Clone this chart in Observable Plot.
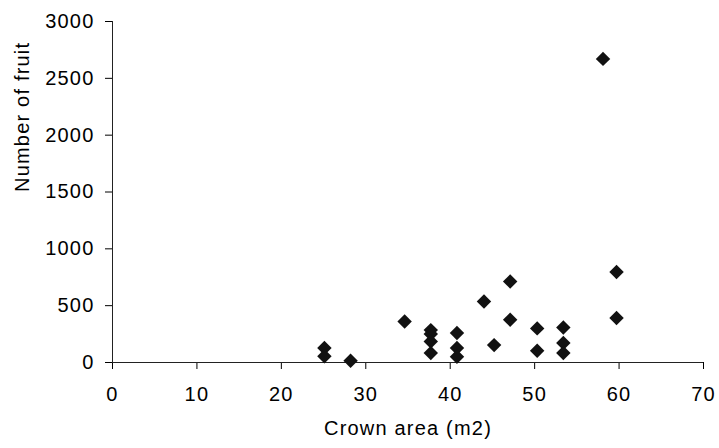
<!DOCTYPE html>
<html><head><meta charset="utf-8">
<script src="https://cdn.jsdelivr.net/npm/d3@7"></script>
<script src="https://cdn.jsdelivr.net/npm/@observablehq/plot@0.6"></script>
<style>
html,body{margin:0;padding:0;background:#fff}
#chart svg text{font-family:'Liberation Sans',Arial,sans-serif;font-size:20px;letter-spacing:1.2px;fill:#000}
</style>
</head><body><div id="chart"></div>
<script>
const crownArea = [25.1, 25.1, 28.2, 34.6, 37.7, 37.7, 37.7, 37.7, 40.8, 40.8, 40.8, 44.0, 45.2, 47.1, 47.1, 50.3, 50.3, 53.4, 53.4, 53.4, 58.1, 59.7, 59.7];
const fruitCount = [127, 55, 15, 361, 285, 250, 185, 83, 259, 127, 50, 537, 153, 713, 376, 300, 103, 308, 171, 83, 2671, 796, 391];
const xTicks = [0, 10, 20, 30, 40, 50, 60, 70];
const yTicks = [0, 500, 1000, 1500, 2000, 2500, 3000];
const xTitle = "Crown area (m2)";
const yTitle = "Number of fruit";

const data = crownArea.map((c, i) => ({area: c, fruit: fruitCount[i]}));
const font = "'Liberation Sans', Arial, sans-serif";

const chart = Plot.plot({
  width: 719,
  height: 448,
  marginLeft: 112,
  marginRight: 16,
  marginTop: 21,
  marginBottom: 86,
  style: {fontFamily: font, fontSize: "20px", color: "#000", background: "#fff"},
  x: {domain: [0, 70], ticks: xTicks, tickFormat: d => String(d), tickSize: 7, tickPadding: 17, label: null},
  y: {domain: [0, 3000], ticks: yTicks, tickFormat: d => String(d), tickSize: 7, tickPadding: 11, label: null},
  marks: [
    Plot.ruleY([0], {stroke: "#222"}),
    Plot.ruleX([0], {stroke: "#222"}),
    Plot.dot(data, {x: "area", y: "fruit", symbol: "diamond2", r: 6.5, fill: "#111", stroke: "none"}),
    Plot.text([xTitle], {frameAnchor: "bottom", dy: 72, fontSize: 20, fontFamily: font, fill: "#000"}),
    Plot.text([yTitle], {frameAnchor: "left", dx: -90, rotate: -90, fontSize: 20, fontFamily: font, fill: "#000"})
  ]
});
document.getElementById("chart").appendChild(chart);
</script>
</body></html>
